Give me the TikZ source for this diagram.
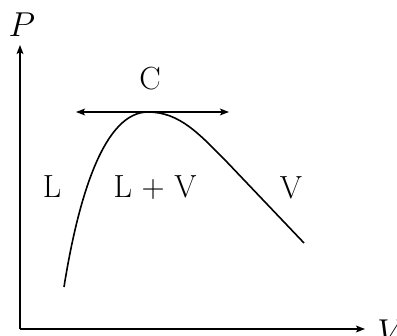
\documentclass[tikz,border=0pt]{standalone}
\usetikzlibrary{arrows.meta}
\begin{document}
\begin{tikzpicture}[x=0.5pt,y=-0.5pt,
  tip/.tip={Stealth[length=4.5pt,width=3.4pt,inset=1pt]},
  axis/.style={line width=0.9pt,-tip},
  curveline/.style={line width=0.8pt},
  lbl/.style={inner sep=0pt,font=\fontsize{16}{18}\selectfont}]
\useasboundingbox (0,0) rectangle (397,336);
\coordinate (O) at (20,329);
\coordinate (ytop) at (20,45);
\coordinate (xend) at (365,329);
\draw[axis] (O) -- (ytop);
\draw[axis] (O) -- (xend);
\node[lbl] (P) at (22,25) {$P$};
\node[lbl,anchor=west] (Vax) at (377,332) {$V$};
\coordinate (tl) at (76,112);
\coordinate (tr) at (229,112);
\draw[curveline,tip-tip] (tl) -- (tr);
\node[lbl] (C) at (150,79) {C};
\coordinate (c0) at (64,287);
\coordinate (cp) at (148,112);
\coordinate (c1) at (225,160);
\coordinate (c2) at (304,243);
\draw[curveline] (c0) .. controls (79,193) and (105,112) .. (cp)
  .. controls (180,112) and (200,135) .. (c1) -- (c2);
\node[lbl] (L) at (52,187) {L};
\node[lbl] (LV) at (155,188) {L + V};
\node[lbl] (V) at (291,188) {V};
\end{tikzpicture}
\end{document}
